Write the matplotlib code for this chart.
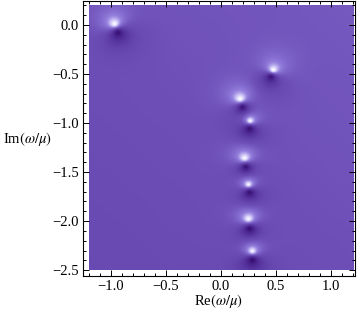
import numpy as np
import matplotlib
matplotlib.use("Agg")
import matplotlib.pyplot as plt
from matplotlib.colors import LinearSegmentedColormap
from matplotlib.ticker import MultipleLocator

# poles (white spots) and zeros (dark spots)
pole_re = [-0.97, 0.47, 0.17, 0.26, 0.21, 0.245, 0.245, 0.28]
pole_im = [0.01, -0.46, -0.755, -0.98, -1.36, -1.63, -1.98, -2.31]
zero_re = [-0.94, 0.45, 0.19, 0.255, 0.22, 0.255, 0.255, 0.28]
zero_im = [-0.08, -0.53, -0.84, -1.06, -1.45, -1.71, -2.08, -2.40]

re_range = (-1.2, 1.2)
im_range = (-2.5, 0.2)
x_ticks = [-1.0, -0.5, 0.0, 0.5, 1.0]
y_ticks = [0.0, -0.5, -1.0, -1.5, -2.0, -2.5]

plt.rcParams['font.family'] = ['Liberation Serif', 'DejaVu Serif']
plt.rcParams['mathtext.fontset'] = 'stix'

# log|(z - zero)/(z - pole)| for each pair, faded out away from the pair
xs = np.linspace(re_range[0], re_range[1], 480)
ys = np.linspace(im_range[0], im_range[1], 540)
X, Y = np.meshgrid(xs, ys)
Z = X + 1j * Y
val = np.zeros_like(X)
for pr, pi, zr, zi in zip(pole_re, pole_im, zero_re, zero_im):
    p, z0 = pr + 1j * pi, zr + 1j * zi
    c = 0.5 * (p + z0)
    env = np.exp(-np.abs(Z - c) ** 2 / (2 * 0.2 ** 2))
    val += (np.log(np.abs(Z - z0) + 1e-6) - np.log(np.abs(Z - p) + 1e-6)) * env

shade = np.tanh(val / 1.35)
shade += 0.035 * (X + Y + 1.15)  # faint overall shading

cmap = LinearSegmentedColormap.from_list("purp", [
    (0.00, (0.22, 0.06, 0.45)),
    (0.25, (0.32, 0.18, 0.60)),
    (0.50, (0.43, 0.31, 0.72)),
    (0.70, (0.57, 0.49, 0.86)),
    (0.86, (0.84, 0.81, 0.98)),
    (1.00, (1.00, 1.00, 1.00)),
])

fig = plt.figure(figsize=(3.6, 3.14), dpi=100)
ax = fig.add_axes([83 / 360, 1 - 276 / 314, 272 / 360, 275 / 314])
ax.imshow(shade, extent=[*re_range, *im_range], origin='lower',
          cmap=cmap, vmin=-1, vmax=1, aspect='auto', interpolation='bilinear')

ax.set_xlim(-1.25, 1.22)
ax.set_ylim(-2.56, 0.245)
ax.set_xticks(x_ticks)
ax.set_yticks(y_ticks)
ax.xaxis.set_minor_locator(MultipleLocator(0.1))
ax.yaxis.set_minor_locator(MultipleLocator(0.1))
ax.set_xticklabels([f"{t:.1f}".replace("-", "\u2212") for t in x_ticks])
ax.set_yticklabels([f"{t:.1f}".replace("-", "\u2212") for t in y_ticks])
ax.tick_params(which='both', direction='in', top=True, right=True,
               labelsize=10.5, pad=3, width=0.7)
ax.tick_params(which='major', length=4.5)
ax.tick_params(which='minor', length=2.5)
for s in ax.spines.values():
    s.set_linewidth(0.8)

ax.set_xlabel(r"Re$(\omega/\mu)$", fontsize=10.5, va='center')
ax.xaxis.set_label_coords(0.5, -0.09)
ax.set_ylabel(r"Im$(\omega/\mu)$", fontsize=10.5, rotation=0, ha='left', va='center')
ax.yaxis.set_label_coords(-80 / 272, 0.5)

fig.savefig("out.png", dpi=100)
